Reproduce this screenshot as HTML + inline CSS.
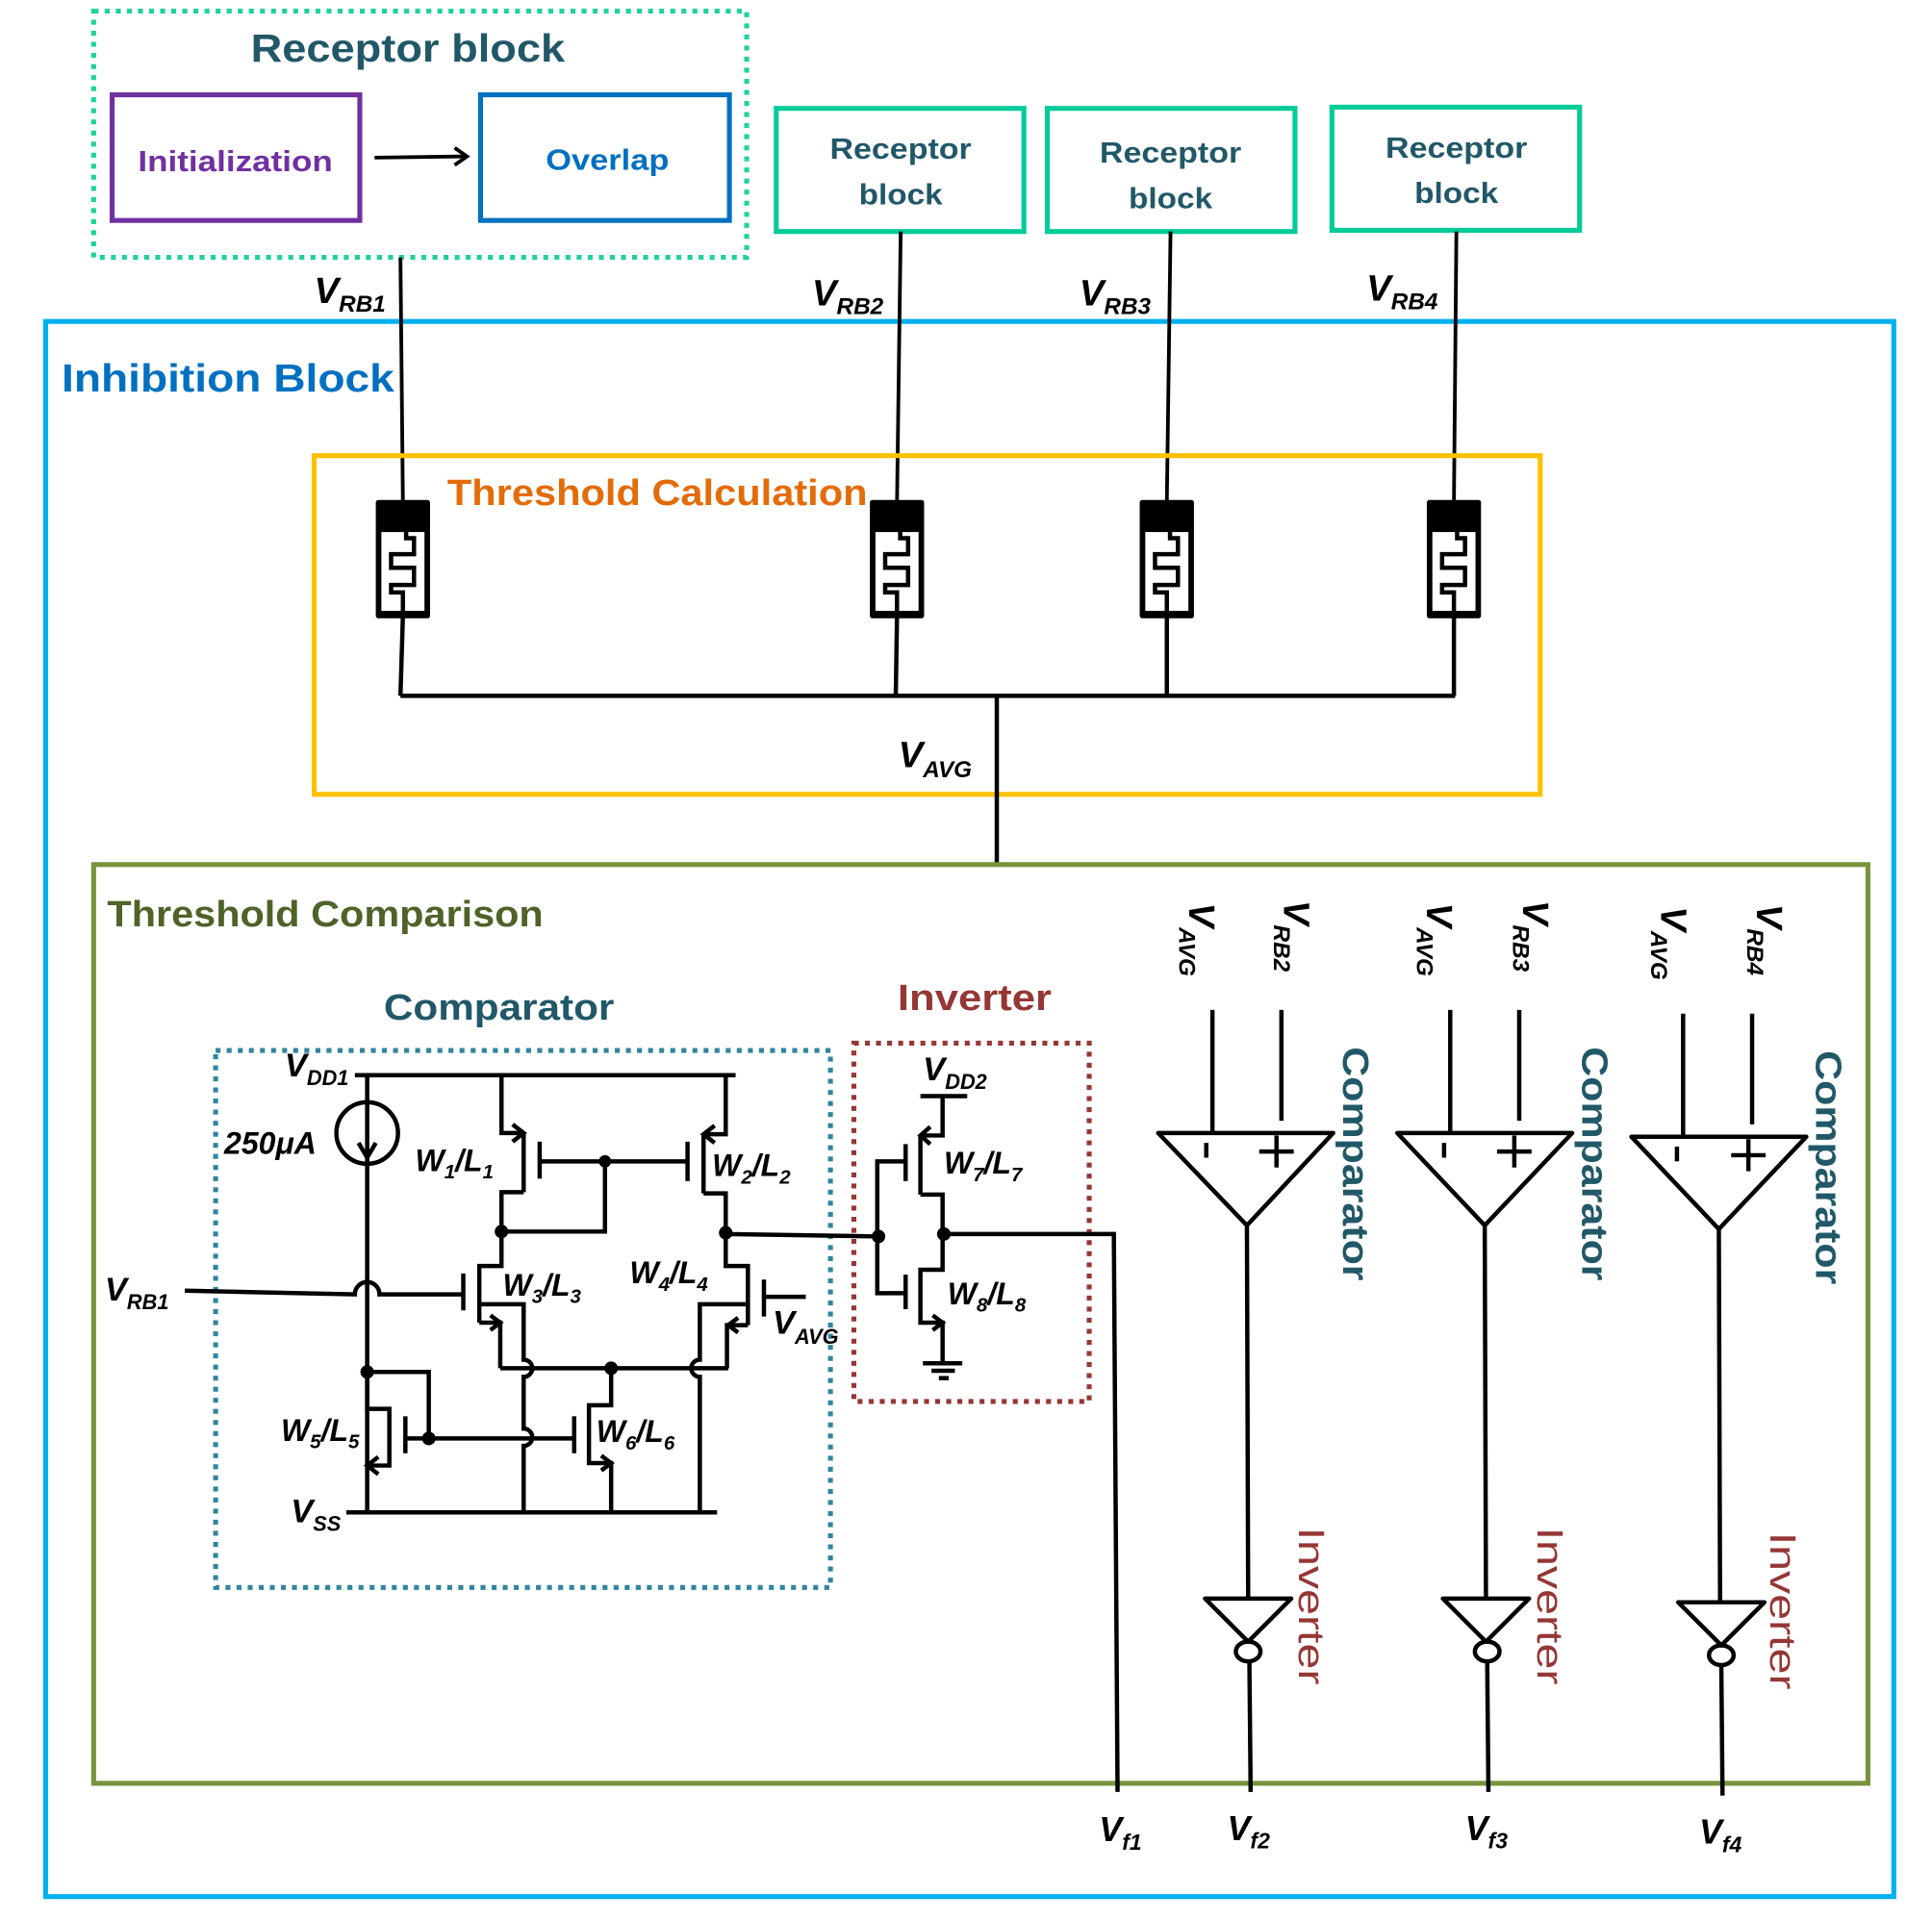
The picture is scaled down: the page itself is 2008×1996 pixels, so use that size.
<!DOCTYPE html>
<html><head><meta charset="utf-8"><style>
html,body{margin:0;padding:0;background:#fff;}
svg{display:block;}
text{font-family:"Liberation Sans",sans-serif;}
.lb{font-weight:bold;font-style:italic;fill:#000;}
</style></head><body>
<svg width="2008" height="1996" viewBox="0 0 1568 1559" preserveAspectRatio="none" xmlns="http://www.w3.org/2000/svg">
<defs>
<g id="res">
  <rect x="-22" y="0" width="44" height="96" fill="#000" rx="2"/>
  <rect x="-17.5" y="26" width="35" height="64" fill="#fff"/>
  <path d="M2.6,22 V31 H9 V44 H-9.6 V55 H9 V69 H-9.6 V75 H0 V96" fill="none" stroke="#000" stroke-width="3.5"/>
</g>
</defs>
<rect width="1568" height="1559" fill="#fff"/>

<rect x="76" y="9" width="530" height="200" fill="none" stroke="#1fd19d" stroke-width="4" stroke-dasharray="4,5"/>
<text x="331" y="50" text-anchor="middle" font-size="32" font-weight="bold" fill="#215868" textLength="255" lengthAdjust="spacingAndGlyphs">Receptor block</text>
<rect x="91" y="77" width="201" height="102" fill="none" stroke="#7030a0" stroke-width="4"/>
<text x="191" y="139" text-anchor="middle" font-size="24" font-weight="bold" fill="#7030a0" textLength="158" lengthAdjust="spacingAndGlyphs">Initialization</text>
<rect x="390" y="77" width="202" height="102" fill="none" stroke="#0070c0" stroke-width="4"/>
<text x="493" y="138" text-anchor="middle" font-size="24" font-weight="bold" fill="#0070c0" textLength="100" lengthAdjust="spacingAndGlyphs">Overlap</text>
<line x1="304" y1="128" x2="378" y2="127" stroke="#000" stroke-width="3"/>
<path d="M369,120 L379,127 L369,134" fill="none" stroke="#000" stroke-width="3"/>

<g fill="none" stroke="#00cc99" stroke-width="4">
<rect x="630" y="88" width="201" height="100"/>
<rect x="850" y="88" width="201" height="100"/>
<rect x="1081" y="87" width="201" height="100"/>
</g>
<g font-size="24" font-weight="bold" fill="#215868" text-anchor="middle">
<text x="731" y="129" textLength="115" lengthAdjust="spacingAndGlyphs">Receptor</text><text x="731" y="166" textLength="68" lengthAdjust="spacingAndGlyphs">block</text>
<text x="950" y="132" textLength="115" lengthAdjust="spacingAndGlyphs">Receptor</text><text x="950" y="169" textLength="68" lengthAdjust="spacingAndGlyphs">block</text>
<text x="1182" y="128" textLength="115" lengthAdjust="spacingAndGlyphs">Receptor</text><text x="1182" y="165" textLength="68" lengthAdjust="spacingAndGlyphs">block</text>
</g>

<rect x="37" y="261" width="1500" height="1279" fill="none" stroke="#00b0f0" stroke-width="4"/>
<text x="50" y="318" font-size="32" font-weight="bold" fill="#0070c0" textLength="270" lengthAdjust="spacingAndGlyphs">Inhibition Block</text>

<g stroke="#000" stroke-width="3">
<line x1="325" y1="209" x2="327" y2="408"/>
<line x1="731" y1="188" x2="728" y2="408"/>
<line x1="950" y1="188" x2="947" y2="408"/>
<line x1="1182" y1="188" x2="1180" y2="408"/>
</g>
<g class="lb" font-size="30">
<text x="255" y="246">V<tspan font-size="19" dy="7">RB1</tspan></text>
<text x="659" y="248">V<tspan font-size="19" dy="7">RB2</tspan></text>
<text x="876" y="248">V<tspan font-size="19" dy="7">RB3</tspan></text>
<text x="1109" y="244">V<tspan font-size="19" dy="7">RB4</tspan></text>
</g>

<rect x="255" y="370" width="995" height="275" fill="none" stroke="#ffc000" stroke-width="4"/>
<text x="363" y="410" font-size="30" font-weight="bold" fill="#e36c09" textLength="341" lengthAdjust="spacingAndGlyphs">Threshold Calculation</text>
<use href="#res" x="327" y="406"/>
<use href="#res" x="728" y="406"/>
<use href="#res" x="947" y="406"/>
<use href="#res" x="1180" y="406"/>
<g stroke="#000" stroke-width="3.5" fill="none">
<line x1="327" y1="500" x2="325" y2="565"/>
<line x1="728" y1="500" x2="727" y2="565"/>
<line x1="947" y1="500" x2="947" y2="565"/>
<line x1="1180" y1="500" x2="1180" y2="565"/>
<line x1="325" y1="565" x2="1181" y2="565"/>
<line x1="809" y1="565" x2="809" y2="702"/>
</g>
<text class="lb" x="729" y="623" font-size="30">V<tspan font-size="19" dy="8">AVG</tspan></text>

<rect x="76" y="702" width="1440" height="746" fill="none" stroke="#77933c" stroke-width="4"/>
<text x="87" y="752" font-size="30" font-weight="bold" fill="#4f6228" textLength="354" lengthAdjust="spacingAndGlyphs">Threshold Comparison</text>

<text x="405" y="828" text-anchor="middle" font-size="30" font-weight="bold" fill="#215868" textLength="187" lengthAdjust="spacingAndGlyphs">Comparator</text>
<rect x="175" y="853" width="499" height="436" fill="none" stroke="#31859c" stroke-width="4" stroke-dasharray="4,5"/>
<text x="791" y="820" text-anchor="middle" font-size="30" font-weight="bold" fill="#953735" textLength="125" lengthAdjust="spacingAndGlyphs">Inverter</text>
<rect x="693" y="847" width="191" height="291" fill="none" stroke="#953735" stroke-width="4" stroke-dasharray="4,5"/>

<g stroke="#000" stroke-width="3.5" fill="none">
<line x1="288" y1="873" x2="597" y2="873"/>
<line x1="281" y1="1228" x2="582" y2="1228"/>
<line x1="298" y1="873" x2="298" y2="1228"/>
<circle cx="298" cy="920" r="25"/>
<path d="M291,928 L298,940 L305,928"/>
<path d="M150,1048 L288,1051 A10,10 0 0 1 308,1051 L376,1051"/>
<path d="M407,873 V920 H425 M425,920 V968 M425,968 H407 V1000"/>
<path d="M416,913 L425,920 L416,927"/>
<line x1="438" y1="927" x2="438" y2="957"/>
<line x1="438" y1="943" x2="557" y2="943"/>
<path d="M491,943 V1000 H407"/>
<path d="M589,873 V921 H571 M571,921 V969 M571,969 H589 V1001"/>
<path d="M580,914 L571,921 L580,928"/>
<line x1="558" y1="927" x2="558" y2="959"/>
<line x1="376" y1="1034" x2="376" y2="1064"/>
<path d="M407,1000 V1028 H389 V1074"/>
<path d="M389,1059 H425 V1104 A7,7 0 0 1 425,1118 V1160 A7,7 0 0 1 425,1174 V1228"/>
<path d="M389,1074 H406 V1111"/>
<path d="M398,1068 L406,1074 L398,1080"/>
<line x1="620" y1="1039" x2="620" y2="1069"/>
<line x1="620" y1="1053" x2="654" y2="1053"/>
<path d="M589,1001 V1028 H607 V1076"/>
<path d="M607,1059 H568 V1104 A7,7 0 0 0 568,1118 V1228"/>
<path d="M607,1076 H590 V1111"/>
<path d="M599,1070 L591,1076 L599,1082"/>
<line x1="406" y1="1111" x2="591" y2="1111"/>
<path d="M298,1114 H348 V1168"/>
<path d="M298,1114 V1144 H316 V1190 H298"/>
<path d="M307,1183 L298,1190 L307,1197"/>
<line x1="329" y1="1150" x2="329" y2="1180"/>
<line x1="329" y1="1168" x2="466" y2="1168"/>
<path d="M496,1111 V1141 H478 V1188 H496 V1228"/>
<path d="M488,1182 L496,1188 L488,1194"/>
<line x1="466" y1="1150" x2="466" y2="1180"/>
<line x1="589" y1="1002" x2="714" y2="1004"/>
</g>
<g fill="#000">
<circle cx="491" cy="943" r="5"/><circle cx="407" cy="1000" r="5.5"/><circle cx="589" cy="1001" r="5.5"/>
<circle cx="496" cy="1111" r="5.5"/><circle cx="298" cy="1114" r="5.5"/><circle cx="348" cy="1168" r="5.5"/>
</g>
<g class="lb" font-size="27">
<text x="231" y="874">V<tspan font-size="17" dy="7">DD1</tspan></text>
<text x="182" y="937" font-size="25">250μA</text>
<text x="85" y="1056">V<tspan font-size="17" dy="7">RB1</tspan></text>
<text x="236" y="1236">V<tspan font-size="17" dy="7">SS</tspan></text>
<text x="627" y="1083">V<tspan font-size="17" dy="8">AVG</tspan></text>
<text x="337" y="951" font-size="25">W<tspan font-size="16" dy="6">1</tspan><tspan dy="-6">/L</tspan><tspan font-size="16" dy="6">1</tspan></text>
<text x="578" y="955" font-size="25">W<tspan font-size="16" dy="6">2</tspan><tspan dy="-6">/L</tspan><tspan font-size="16" dy="6">2</tspan></text>
<text x="408" y="1052" font-size="25">W<tspan font-size="16" dy="6">3</tspan><tspan dy="-6">/L</tspan><tspan font-size="16" dy="6">3</tspan></text>
<text x="511" y="1042" font-size="25">W<tspan font-size="16" dy="6">4</tspan><tspan dy="-6">/L</tspan><tspan font-size="16" dy="6">4</tspan></text>
<text x="228" y="1170" font-size="25">W<tspan font-size="16" dy="6">5</tspan><tspan dy="-6">/L</tspan><tspan font-size="16" dy="6">5</tspan></text>
<text x="484" y="1171" font-size="25">W<tspan font-size="16" dy="6">6</tspan><tspan dy="-6">/L</tspan><tspan font-size="16" dy="6">6</tspan></text>
<text x="749" y="877">V<tspan font-size="17" dy="7">DD2</tspan></text>
<text x="766" y="953" font-size="25">W<tspan font-size="16" dy="6">7</tspan><tspan dy="-6">/L</tspan><tspan font-size="16" dy="6">7</tspan></text>
<text x="769" y="1059" font-size="25">W<tspan font-size="16" dy="6">8</tspan><tspan dy="-6">/L</tspan><tspan font-size="16" dy="6">8</tspan></text>
</g>

<g stroke="#000" stroke-width="3.5" fill="none">
<line x1="747" y1="890" x2="785" y2="890"/>
<path d="M765,890 V922 H747 M747,922 V970 M747,970 H765 V1003"/>
<path d="M755,915 L747,922 L755,929"/>
<line x1="735" y1="929" x2="735" y2="959"/>
<path d="M735,943 H712 V1050 H735"/>
<line x1="735" y1="1035" x2="735" y2="1063"/>
<path d="M765,1003 V1031 H747 V1074 H765 V1106"/>
<path d="M757,1068 L765,1074 L757,1080"/>
<line x1="749" y1="1107" x2="781" y2="1107"/>
<line x1="756" y1="1113" x2="775" y2="1113"/>
<line x1="762" y1="1119" x2="770" y2="1119"/>
<path d="M765,1002 L904,1002 L907,1455"/>
</g>
<circle cx="713" cy="1004" r="5.5"/><circle cx="766" cy="1002" r="5.5"/>

<g stroke="#000" stroke-width="3.5" fill="none" stroke-linejoin="round">
<path d="M940,920 H1082 L1012,995 Z"/>
<path d="M1134,920 H1276 L1205,995 Z"/>
<path d="M1324,923 H1466 L1395,998 Z"/>
<line x1="984" y1="820" x2="984" y2="920"/><line x1="1040" y1="820" x2="1040" y2="910"/>
<line x1="1177" y1="820" x2="1177" y2="920"/><line x1="1233" y1="820" x2="1233" y2="910"/>
<line x1="1366" y1="823" x2="1366" y2="923"/><line x1="1422" y1="823" x2="1422" y2="913"/>
<line x1="979" y1="928" x2="979" y2="940"/><line x1="1022" y1="935" x2="1050" y2="935"/><line x1="1036" y1="922" x2="1036" y2="948"/>
<line x1="1172" y1="928" x2="1172" y2="940"/><line x1="1215" y1="935" x2="1243" y2="935"/><line x1="1229" y1="922" x2="1229" y2="948"/>
<line x1="1361" y1="931" x2="1361" y2="943"/><line x1="1405" y1="938" x2="1433" y2="938"/><line x1="1419" y1="925" x2="1419" y2="951"/>
<line x1="1012" y1="995" x2="1013" y2="1298"/>
<line x1="1205" y1="995" x2="1206" y2="1298"/>
<line x1="1395" y1="998" x2="1396" y2="1300"/>
<path d="M978,1298 H1048 L1013,1333 Z"/>
<path d="M1171,1298 H1241 L1206,1333 Z"/>
<path d="M1362,1301 H1432 L1397,1336 Z"/>
<ellipse cx="1013" cy="1341" rx="10" ry="8"/>
<ellipse cx="1207" cy="1341" rx="10" ry="8"/>
<ellipse cx="1397" cy="1344" rx="10" ry="8"/>
<line x1="1014" y1="1349" x2="1015" y2="1455"/>
<line x1="1207" y1="1349" x2="1208" y2="1455"/>
<line x1="1397" y1="1352" x2="1398" y2="1458"/>
</g>
<g class="lb" font-size="30">
<text transform="translate(965,733) rotate(90)">V<tspan font-size="19" dy="8">AVG</tspan></text>
<text transform="translate(1042,731) rotate(90)">V<tspan font-size="19" dy="8">RB2</tspan></text>
<text transform="translate(1158,733) rotate(90)">V<tspan font-size="19" dy="8">AVG</tspan></text>
<text transform="translate(1236,731) rotate(90)">V<tspan font-size="19" dy="8">RB3</tspan></text>
<text transform="translate(1348,736) rotate(90)">V<tspan font-size="19" dy="8">AVG</tspan></text>
<text transform="translate(1426,734) rotate(90)">V<tspan font-size="19" dy="8">RB4</tspan></text>
</g>
<g font-size="30" fill="#215868" font-weight="bold">
<text transform="translate(1090,850) rotate(90)" textLength="190" lengthAdjust="spacingAndGlyphs">Comparator</text>
<text transform="translate(1284,850) rotate(90)" textLength="190" lengthAdjust="spacingAndGlyphs">Comparator</text>
<text transform="translate(1474,853) rotate(90)" textLength="190" lengthAdjust="spacingAndGlyphs">Comparator</text>
</g>
<g font-size="30" fill="#953735">
<text transform="translate(1054,1240) rotate(90)" textLength="128" lengthAdjust="spacingAndGlyphs">Inverter</text>
<text transform="translate(1248,1240) rotate(90)" textLength="128" lengthAdjust="spacingAndGlyphs">Inverter</text>
<text transform="translate(1437,1244) rotate(90)" textLength="128" lengthAdjust="spacingAndGlyphs">Inverter</text>
</g>
<g class="lb" font-size="28">
<text x="892" y="1495">V<tspan font-size="18" dy="7">f1</tspan></text>
<text x="996" y="1494">V<tspan font-size="18" dy="7">f2</tspan></text>
<text x="1189" y="1494">V<tspan font-size="18" dy="7">f3</tspan></text>
<text x="1379" y="1497">V<tspan font-size="18" dy="7">f4</tspan></text>
</g>
</svg>
</body></html>
